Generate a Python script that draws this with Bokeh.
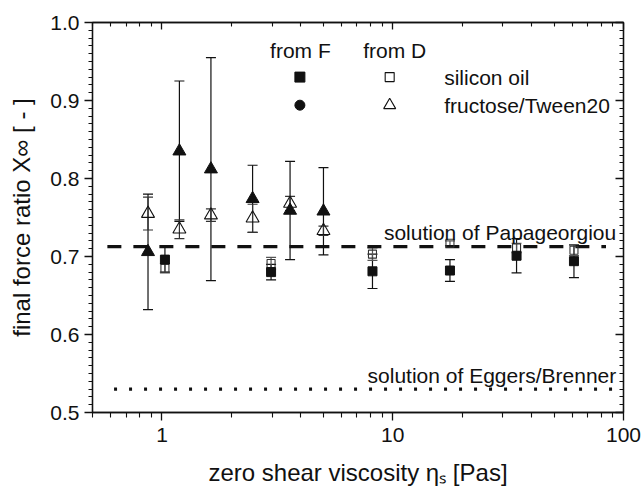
from bokeh.plotting import figure
from bokeh.models import (LinearAxis, LogAxis, FixedTicker, NumeralTickFormatter, Whisker,
                          TeeHead, ColumnDataSource, Label, Range1d)
from bokeh.embed import file_html
from bokeh.resources import INLINE

# ---------------- data ----------------
# fructose/Tween20 (triangles)
visc_tri = [0.87, 1.19, 1.63, 2.47, 3.59, 5.01]
tri_from_F = [0.706, 0.835, 0.812, 0.774, 0.759, 0.758]
tri_from_F_err = [0.074, 0.090, 0.143, 0.043, 0.063, 0.056]
tri_from_D = [0.755, 0.735, 0.753, 0.749, 0.768, 0.733]
tri_from_D_err = [0.021, 0.012, 0.008, 0.018, 0.009, 0.006]

# silicon oil (squares)
visc_sq = [1.03, 2.97, 8.17, 17.7, 34.4, 61.0]
sq_from_F = [0.696, 0.680, 0.681, 0.682, 0.701, 0.694]
sq_from_F_err = [0.016, 0.010, 0.022, 0.014, 0.022, 0.021]
sq_from_D = [0.685, 0.691, 0.703, 0.717, 0.711, 0.708]
sq_from_D_err = [0.006, 0.008, 0.008, 0.003, 0.006, 0.007]

# theoretical solutions
papageorgiou_value = 0.7127
papageorgiou_span = [0.58, 84.0]
eggers_value = 0.530
eggers_span = [0.62, 98.0]

x_ticks = [1, 10, 100]
x_minor = [m * d for d in (0.1, 1, 10) for m in range(2, 10) if 0.5 <= m * d <= 100]
y_ticks = [0.5, 0.6, 0.7, 0.8, 0.9, 1.0]
y_minor = [round(0.5 + 0.01 * i, 2) for i in range(51)]

FONT = "Liberation Sans"
INK = "#111111"

p = figure(width=644, height=488, x_axis_type="log",
           x_range=Range1d(0.5, 100), y_range=Range1d(0.5, 1.0),
           output_backend="svg", toolbar_location=None,
           min_border_left=92, min_border_right=21, min_border_top=22, min_border_bottom=76,
           background_fill_color="white", border_fill_color="white")
p.grid.visible = False
p.outline_line_color = INK
p.outline_line_width = 1.3


def style_axis(ax, show_labels, tick_in, tick_out, minor_in, minor_out):
    ax.axis_line_color = INK
    ax.axis_line_width = 1.3
    ax.major_tick_line_color = INK
    ax.major_tick_line_width = 1.3
    ax.minor_tick_line_color = INK
    ax.minor_tick_line_width = 1.1
    ax.major_tick_in = tick_in
    ax.major_tick_out = tick_out
    ax.minor_tick_in = minor_in
    ax.minor_tick_out = minor_out
    if show_labels:
        ax.major_label_text_font = FONT
        ax.major_label_text_font_size = "21px"
        ax.major_label_text_color = INK
        ax.axis_label_text_font = FONT
        ax.axis_label_text_font_size = "24px"
        ax.axis_label_text_font_style = "normal"
        ax.axis_label_text_color = INK
    else:
        ax.major_label_text_font_size = "1px"
        ax.major_label_text_alpha = 0
        ax.major_label_standoff = 0


xax = p.xaxis[0]
xax.ticker = FixedTicker(ticks=x_ticks, minor_ticks=x_minor)
xax.formatter = NumeralTickFormatter(format="0")
style_axis(xax, True, 0, 8, 0, 5)
xax.major_label_standoff = 7
xax.axis_label = "zero shear viscosity ηₛ [Pas]"
xax.axis_label_standoff = 14

yax = p.yaxis[0]
yax.ticker = FixedTicker(ticks=y_ticks, minor_ticks=y_minor)
yax.formatter = NumeralTickFormatter(format="0.0")
style_axis(yax, True, 0, 8, 0, 4)
yax.major_label_standoff = 5
yax.axis_label = "final force ratio X∞ [ - ]"
yax.axis_label_standoff = 12

top = LogAxis(ticker=FixedTicker(ticks=x_ticks, minor_ticks=x_minor))
style_axis(top, False, 7, 0, 4, 0)
p.add_layout(top, "above")

right = LinearAxis(ticker=FixedTicker(ticks=y_ticks, minor_ticks=y_minor))
style_axis(right, False, 8, 0, 4, 0)
p.add_layout(right, "right")

# reference lines
p.line(papageorgiou_span, [papageorgiou_value] * 2, line_color=INK, line_width=3.2,
       line_dash="14 12")
p.line(eggers_span, [eggers_value] * 2, line_color=INK, line_width=3.2, line_dash="3 12")

p.add_layout(Label(x=93, y=0.731, text="solution of Papageorgiou", text_align="right",
                   text_baseline="middle", text_font=FONT, text_font_size="21px",
                   text_color=INK))
p.add_layout(Label(x=93, y=0.548, text="solution of Eggers/Brenner", text_align="right",
                   text_baseline="middle", text_font=FONT, text_font_size="21px",
                   text_color=INK))


def err_source(xs, ys, es):
    return ColumnDataSource(dict(x=xs, y=ys,
                                 upper=[y + e for y, e in zip(ys, es)],
                                 lower=[y - e for y, e in zip(ys, es)]))


src_tri_F = err_source(visc_tri, tri_from_F, tri_from_F_err)
src_tri_D = err_source(visc_tri, tri_from_D, tri_from_D_err)
src_sq_F = err_source(visc_sq, sq_from_F, sq_from_F_err)
src_sq_D = err_source(visc_sq, sq_from_D, sq_from_D_err)

for src, col in ((src_tri_F, INK), (src_tri_D, "#333333"), (src_sq_F, INK), (src_sq_D, "#555555")):
    p.add_layout(Whisker(source=src, base="x", upper="upper", lower="lower", dimension="height",
                         line_color=col, line_width=1.2,
                         upper_head=TeeHead(size=10, line_color=col, line_width=1.2),
                         lower_head=TeeHead(size=10, line_color=col, line_width=1.2)))

p.scatter("x", "y", source=src_tri_D, marker="triangle", size=13, fill_color=None,
          line_color=INK, line_width=1.1)
p.scatter("x", "y", source=src_sq_D, marker="square", size=8, fill_color=None,
          line_color="#333333", line_width=1.1)
p.scatter("x", "y", source=src_tri_F, marker="triangle", size=13, fill_color=INK,
          line_color=INK)
p.scatter("x", "y", source=src_sq_F, marker="square", size=9, fill_color=INK,
          line_color=INK)

# legend (header row + two rows)
legend_col_x = [3.96, 9.7]
legend_row_y = [0.930, 0.894]
legend_header = ["from F", "from D"]
legend_header_x = [3.98, 10.2]
legend_header_y = 0.964
legend_labels = ["silicon oil", "fructose/Tween20"]
legend_label_x = 16.7

for hx, ht in zip(legend_header_x, legend_header):
    p.add_layout(Label(x=hx, y=legend_header_y, text=ht, text_align="center",
                       text_baseline="middle", text_font=FONT, text_font_size="21px",
                       text_color=INK))
for ly, lt in zip(legend_row_y, legend_labels):
    p.add_layout(Label(x=legend_label_x, y=ly, text=lt, text_align="left",
                       text_baseline="middle", text_font=FONT, text_font_size="21px",
                       text_color=INK))

p.scatter([legend_col_x[0]], [legend_row_y[0]], marker="square", size=10, fill_color=INK,
          line_color=INK)
p.scatter([legend_col_x[1]], [legend_row_y[0]], marker="square", size=9, fill_color=None,
          line_color=INK, line_width=1.1)
p.scatter([legend_col_x[0]], [legend_row_y[1]], marker="circle", size=10, fill_color=INK,
          line_color=INK)
p.scatter([legend_col_x[1]], [legend_row_y[1]], marker="triangle", size=12, fill_color=None,
          line_color=INK, line_width=1.1)

open("out.html", "w").write(file_html(p, INLINE))
